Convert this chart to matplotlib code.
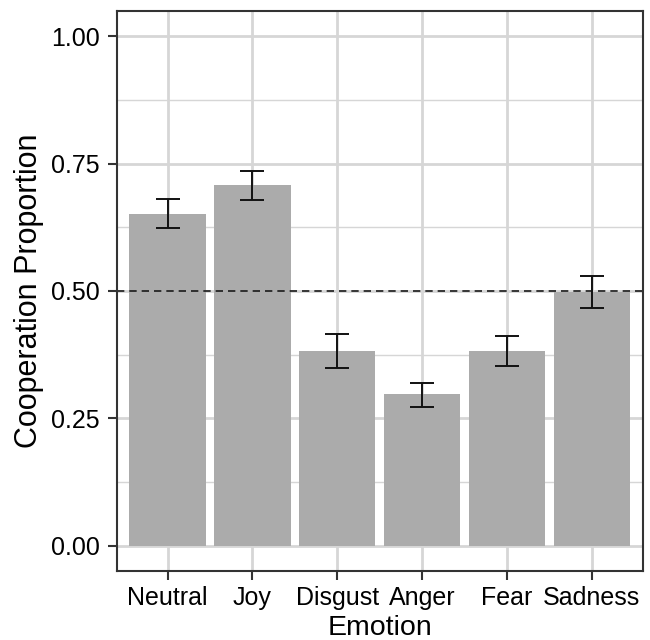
import matplotlib
matplotlib.use("Agg")
import matplotlib.pyplot as plt
import numpy as np

plt.rcParams['font.family'] = ['Liberation Sans', 'DejaVu Sans']

emotions = ["Neutral", "Joy", "Disgust", "Anger", "Fear", "Sadness"]
proportion = [0.652, 0.708, 0.383, 0.297, 0.382, 0.499]
err_low = [0.623, 0.678, 0.349, 0.273, 0.352, 0.467]
err_high = [0.681, 0.736, 0.416, 0.319, 0.411, 0.529]
y_ticks = [0.00, 0.25, 0.50, 0.75, 1.00]
y_tick_labels = ["0.00", "0.25", "0.50", "0.75", "1.00"]
reference_level = 0.5

fig = plt.figure(figsize=(6.5, 6.4), dpi=100)
ax = fig.add_axes([116.7/650, 1-571/640, (642.7-116.7)/650, (571-11)/640])

x = np.arange(1, len(emotions)+1)
grid_c = "#D6D6D6"
# minor gridlines
for yv in [0.125, 0.375, 0.625, 0.875]:
    ax.axhline(yv, color=grid_c, lw=1.0, zorder=0)
for yv in y_ticks:
    ax.axhline(yv, color=grid_c, lw=2.0, zorder=0)
for xv in x:
    ax.axvline(xv, color=grid_c, lw=2.0, zorder=0)

ax.bar(x, proportion, width=0.9, color="#ABABAB", zorder=2)
lo = np.array(proportion) - np.array(err_low)
hi = np.array(err_high) - np.array(proportion)
ax.errorbar(x, proportion, yerr=[lo, hi], fmt="none", ecolor="#111111",
            elinewidth=1.4, capsize=8.5, capthick=1.4, zorder=4)
ax.axhline(reference_level, color="#1a1a1a", lw=1.2, ls=(0, (4.4, 3)), zorder=3)

ax.set_xlim(0.4, 6.6)
ax.set_ylim(-0.05, 1.05)
ax.set_xticks(x)
ax.set_xticklabels(emotions)
ax.set_yticks(y_ticks)
ax.set_yticklabels(y_tick_labels)
ax.tick_params(axis='both', length=6.5, width=1.5, color="#333333",
               labelsize=18, labelcolor="black")
ax.tick_params(axis='y', pad=5.5)
ax.tick_params(axis='x', pad=4)
for s in ax.spines.values():
    s.set_color("#333333")
    s.set_linewidth(1.5)
    s.set_zorder(5)

ax.set_xlabel("Emotion", fontsize=20.5, labelpad=4)
ax.set_ylabel("Cooperation Proportion", fontsize=22, labelpad=5)

fig.savefig("out.png", dpi=100)
